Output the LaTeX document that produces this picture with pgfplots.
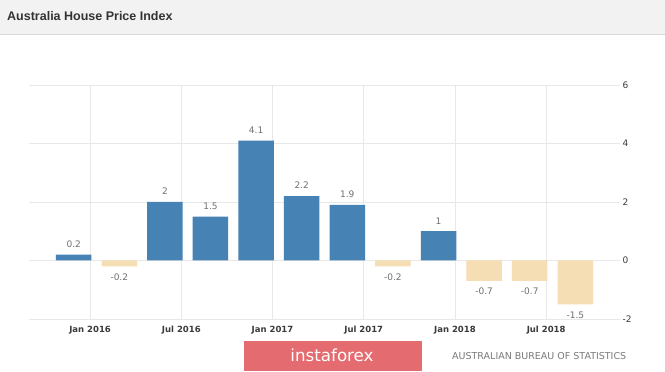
\documentclass[border=0pt]{standalone}
\usepackage{pgfplots}
\pgfplotsset{compat=1.18}
\usepackage{fontspec}
\setmainfont{DejaVu Sans}
\newfontfamily\titlefont{Liberation Sans}
\definecolor{barblue}{HTML}{4682B4}
\definecolor{barneg}{HTML}{F5DEB3}
\definecolor{headgray}{HTML}{F2F2F2}
\definecolor{headline}{HTML}{DADADA}
\definecolor{gridcol}{HTML}{E8E8E8}
\definecolor{titlecol}{HTML}{333333}
\definecolor{labgray}{HTML}{707070}
\definecolor{tickcol}{HTML}{3A3A3A}
\definecolor{logored}{HTML}{E46C70}
\definecolor{srcgray}{HTML}{7A7A7A}
\begin{document}
\begin{tikzpicture}[x=1pt,y=1pt]
\useasboundingbox (0,0) rectangle (665,372);
\fill[white] (0,0) rectangle (665,372);
\fill[headgray] (0,338) rectangle (665,372);
\draw[headline] (0,338) -- (665,338);
\node[anchor=west, inner sep=0pt, text=titlecol, font=\titlefont\bfseries\fontsize{12.5}{14}\selectfont] at (7,355.5) {Australia House Price Index};
\begin{axis}[
  at={(29pt,53pt)}, anchor=south west,
  scale only axis, width=591pt, height=234pt,
  xmin=-0.98, xmax=11.98, ymin=-2, ymax=6,
  axis line style={draw=none},
  tick style={draw=none},
  grid=major, major grid style={gridcol, line width=0.6pt},
  xtick={0.36,2.36,4.36,6.36,8.36,10.36},
  xticklabels={Jan 2016, Jul 2016, Jan 2017, Jul 2017, Jan 2018, Jul 2018},
  ytick={-2,0,2,4,6},
  yticklabel pos=right,
  /pgf/number format/assume math mode=true,
  xticklabel style={font=\bfseries\fontsize{8.5}{10}\selectfont, text=tickcol, yshift=1pt},
  yticklabel style={font=\fontsize{9}{10}\selectfont, text=tickcol, xshift=-1pt},
  ybar, bar width=35.5pt,
  nodes near coords,
  every node near coord/.append style={font=\fontsize{9}{10}\selectfont, text=labgray, inner ysep=7pt},
]
\addplot[fill=barblue, draw=none, bar shift=0pt] coordinates {
(0,0.2) (2,2) (3,1.5) (4,4.1) (5,2.2) (6,1.9) (8,1)};
\addplot[fill=barneg, draw=none, bar shift=0pt] coordinates {
(1,-0.2) (7,-0.2) (9,-0.7) (10,-0.7) (11,-1.5)};
\end{axis}
\fill[logored] (244,1) rectangle (422,31);
\node[text=white, inner sep=0pt, font=\fontsize{16.7}{18}\selectfont] at (332,17) {instaforex};
\node[anchor=west, inner sep=0pt, text=srcgray, font=\fontsize{9.5}{11}\selectfont] at (452,15.5) {AUSTRALIAN BUREAU OF STATISTICS};
\end{tikzpicture}
\end{document}
